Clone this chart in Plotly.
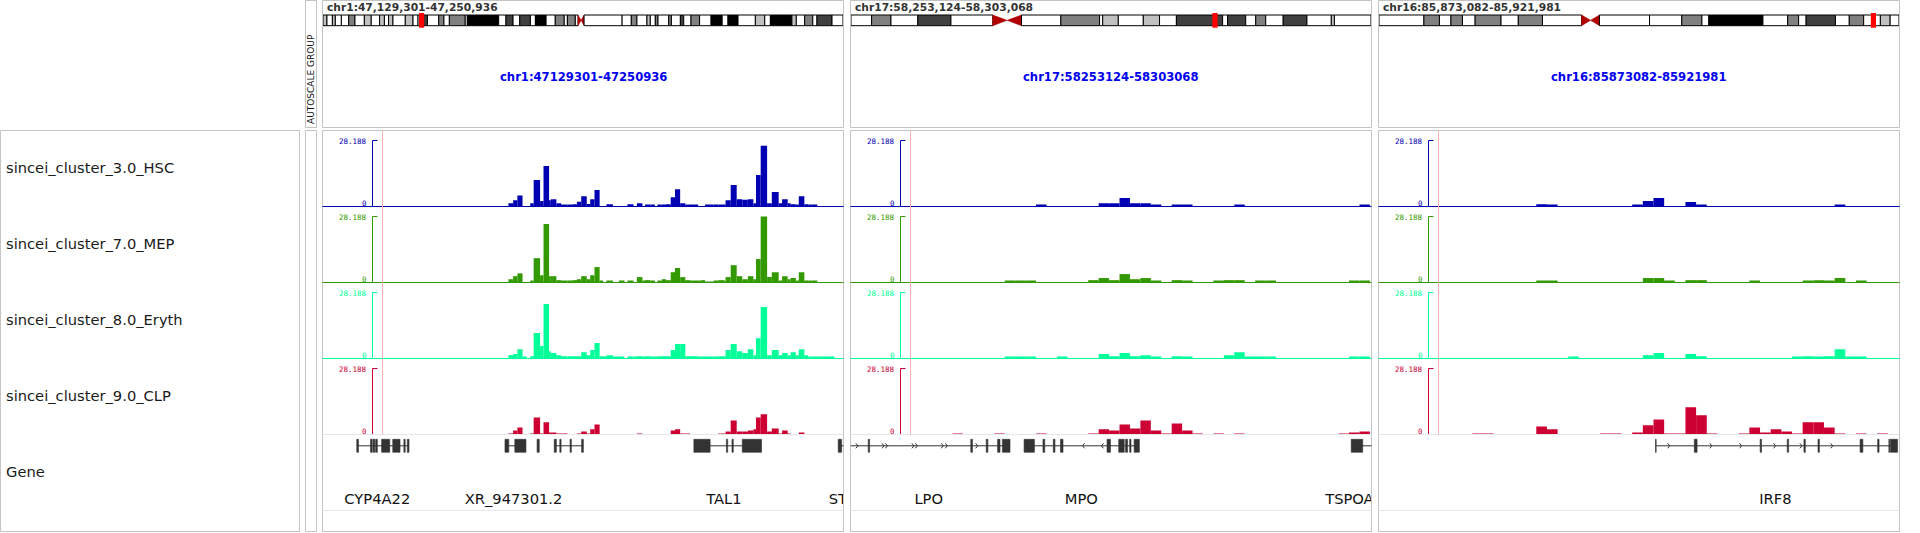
import plotly.graph_objects as go

# ============================ DATA ============================
REGION_CHR = ["chr1", "chr17", "chr16"]
REGION_START = [47129301, 58253124, 85873082]
REGION_END = [47250936, 58303068, 85921981]
CHROM_LEN_MB = [248.956, 83.257, 90.338]

TRACK_NAMES = ["sincei_cluster_3.0_HSC", "sincei_cluster_7.0_MEP",
               "sincei_cluster_8.0_Eryth", "sincei_cluster_9.0_CLP"]
GENE_TRACK_NAME = "Gene"
DATA_MAX = 28.188
SCALE_TOP_LABEL = "28.188"
SCALE_BOTTOM_LABEL = "0"

# ---- panel 1 (chr1) signal: segment edges (kb from region start) ----
P1_EDGES_KB = [43.4, 44.5, 45.5, 46.7, 47.7, 48.5, 49.3, 50.8, 51.6, 52.9, 53.3, 53.8,
               54.6, 55.7, 57.2, 58.3, 59.4, 60.4, 61.7, 62.5, 63.5, 64.7, 65.5, 66.3,
               67.8, 69.2, 70.5, 71.2, 72.6, 73.4, 74.7, 75.3, 76.6, 77.6, 78.2, 79.2,
               80.2, 81.3, 82.3, 83.5, 84.7, 85.8, 87.7, 88.4, 89.3, 91.3, 92.4, 93.7,
               94.1, 95.3, 96.7, 98.0, 99.3, 100.6, 101.2, 102.3, 103.8, 104.9, 106.5,
               107.3, 108.6, 109.3, 110.5, 111.2, 112.5, 113.4, 114.2, 115.5, 119.5]
P1_HSC = [1.4, 2.7, 4.7, 0, 0, 1.4, 11.3, 2.3, 17.3, 2.7,
          3.1, 3.1, 1.4, 0.6, 0.6, 1.0, 2.0, 4.4, 1.1, 3.1,
          7.0, 0, 0, 1.0, 0, 0, 0, 1.0, 0, 1.4,
          0, 0.6, 0.6, 0, 0.6, 0.6, 1.0, 4.0, 7.4, 1.4,
          0.6, 0.6, 0, 0, 0.6, 0.6, 0.6, 0.6, 2.7, 9.2,
          3.1, 2.9, 3.1, 1.4, 13.5, 25.9, 1.4, 6.2, 1.4, 3.1,
          1.4, 1.0, 0.6, 4.4, 1.0, 0.6, 0.6, 0]
P1_MEP = [1.4, 2.7, 3.9, 0, 0, 0.6, 10.4, 3.1, 25.0, 2.7,
          2.7, 2.7, 1.0, 0.8, 0.6, 1.0, 1.4, 2.7, 1.4, 3.1,
          6.6, 0.6, 0, 0.6, 0, 0.6, 0, 0.6, 0, 2.3,
          0.6, 1.0, 0.6, 0, 0.6, 1.4, 1.0, 4.4, 6.2, 2.3,
          1.0, 0.6, 0.6, 1.0, 0.4, 0.6, 1.0, 0.6, 2.3, 7.4,
          2.7, 1.4, 2.7, 1.4, 10.0, 28.188, 2.3, 4.4, 0.6, 2.7,
          1.4, 1.9, 0.6, 4.4, 0.6, 0.6, 0.6, 0]
P1_ERYTH = [1.4, 1.9, 4.0, 0.6, 0, 1.0, 10.9, 5.3, 23.3, 3.1,
            2.3, 2.3, 1.4, 1.0, 1.0, 1.0, 1.0, 2.7, 1.4, 3.6,
            6.6, 1.0, 1.0, 1.4, 0.6, 0.6, 0, 0.6, 0.6, 1.0,
            0.6, 1.0, 0.6, 0.6, 1.0, 1.0, 1.0, 3.6, 6.2, 6.2,
            1.0, 1.0, 0.6, 0.6, 0.6, 0.6, 1.0, 1.0, 3.6, 6.2,
            3.1, 2.3, 4.0, 1.4, 8.7, 22.0, 1.4, 3.6, 1.4, 2.3,
            1.4, 2.7, 1.4, 4.0, 1.4, 0.6, 0.6, 0.6]
P1_CLP = [0.4, 1.7, 3.0, 0, 0, 0.4, 7.3, 0.4, 5.2, 0.9,
          0.9, 0.9, 0.4, 0.4, 0, 0, 0.4, 1.3, 0.4, 2.2,
          4.3, 0, 0, 0, 0, 0, 0, 0, 0, 0.4,
          0, 0, 0, 0, 0, 0, 0, 1.7, 2.2, 0.4,
          0.4, 0, 0, 0, 0, 0, 0.4, 0.4, 1.3, 6.0,
          1.3, 1.3, 1.7, 2.2, 7.3, 8.6, 1.3, 2.6, 0.4, 1.7,
          0.4, 0, 0, 0.9, 0, 0, 0, 0]

# ---- panels 2 & 3: 1 kb bins (bin k starts at origin + k * BIN_BP) ----
BIN_BP = 1000
P2_BIN_ORIGIN = 58252914
P2_BINS = [10, 14, 15, 16, 17, 18, 20, 23, 24, 25, 26, 27, 28, 29, 30, 31, 32, 33,
           35, 36, 37, 38, 39, 40, 47, 48, 49]
P2_HSC = [0, 0, 0, 0, 0, 0.6, 0, 0, 1.4, 1.4, 3.6, 1.4, 1.4, 0.6, 0, 0.6, 0.6, 0,
          0, 0, 0.6, 0, 0, 0, 0, 0, 0.6]
P2_MEP = [0, 0, 0.6, 0.6, 0.6, 0, 0, 1.0, 1.9, 1.0, 3.6, 1.4, 1.9, 0.6, 0, 1.0, 0.6, 0,
          0.6, 1.0, 1.0, 0, 0.6, 0.6, 0, 0.6, 0.6]
P2_ERYTH = [0, 0, 0.6, 0.6, 0.6, 0, 0.6, 0, 1.9, 1.0, 2.3, 1.0, 1.4, 0.6, 0, 1.0, 0.6, 0,
            0, 1.4, 2.7, 0.6, 0.6, 0.6, 0, 0.6, 0.6]
P2_CLP = [0.4, 0.4, 0, 0, 0, 0.4, 0, 0.4, 2.2, 1.7, 4.3, 2.6, 6.0, 1.7, 0.4, 4.7, 1.7, 0.4,
          0.4, 0, 0.4, 0, 0, 0, 0.4, 0.9, 1.3]

P3_BIN_ORIGIN = 85872892
P3_BINS = [9, 10, 15, 16, 18, 21, 22, 24, 25, 26, 27, 28, 29, 30, 31, 34, 35, 36, 37, 38,
           39, 40, 41, 42, 43, 44, 45, 47]
P3_HSC = [0, 0, 1.0, 0.6, 0, 0, 0, 0.6, 2.3, 3.6, 0, 0, 1.9, 0.6, 0, 0, 0, 0, 0, 0,
          0, 0, 0, 0, 0.6, 0, 0, 0]
P3_MEP = [0, 0, 0.6, 0.6, 0, 0, 0, 0, 1.9, 1.9, 0.6, 0, 1.0, 1.0, 0, 0, 0.6, 0, 0, 0,
          0, 0.6, 1.0, 0.6, 1.9, 0, 0.6, 0]
P3_ERYTH = [0, 0, 0, 0, 0.6, 0, 0, 0, 1.4, 2.3, 0, 0, 1.9, 1.0, 0, 0, 0, 0, 0, 0,
            0.6, 1.0, 0.6, 1.0, 4.0, 0.6, 0.6, 0]
P3_CLP = [0.4, 0.4, 3.4, 2.2, 0, 0.4, 0.4, 0.9, 3.9, 6.4, 0.4, 0.4, 11.6, 8.2, 0.4, 0.4,
          3.0, 0.9, 2.2, 1.3, 0.4, 5.2, 5.2, 3.0, 0.4, 0, 0.4, 0.4]

# ---- cytobands (Mb) ; stain: 0 gneg, 25/50/75/100 gpos, -1 centromere ----
CHR1_BAND_EDGES = [0, 1.9, 4.5, 5.9, 8.8, 12.3, 15.3, 19.8, 23.1, 27.1, 29.4, 31.4, 33.5,
                   39.4, 43.1, 45.5, 48.2, 50.0, 55.4, 57.9, 60.5, 68.1, 69.1, 84.1, 87.6,
                   91.0, 94.2, 99.3, 101.7, 106.8, 111.2, 115.5, 117.0, 120.8, 122.1,
                   125.0, 143.2, 147.6, 150.3, 155.1, 156.7, 159.1, 160.4, 165.5, 166.8,
                   171.1, 172.7, 176.2, 180.3, 185.8, 191.1, 193.9, 198.7, 207.0, 211.5,
                   214.2, 224.5, 226.6, 230.6, 234.5, 236.5, 243.7, 248.956]
CHR1_BAND_STAIN = [25, 0, 25, 0, 0, 50, 0, 25, 0, 25, 0, 25, 0, 25, 0, 0, 75, 0, 50, 0, 50,
                   0, 100, 0, 75, 0, 75, 0, 100, 0, 50, 0, 50, 0,
                   -1,
                   0, 0, 50, 0, 25, 0, 50, 0, 50, 0, 75, 0, 50, 0, 100, 0, 100, 0, 25, 0,
                   100, 25, 0, 50, 0, 75, 0]
CHR17_BAND_EDGES = [0, 3.3, 6.4, 10.7, 16.0, 22.7, 27.3, 33.6, 39.8, 40.3, 42.8, 46.8,
                    49.4, 52.1, 59.5, 60.3, 63.2, 64.8, 66.4, 69.2, 73.0, 76.9, 77.4, 83.257]
CHR17_BAND_STAIN = [0, 50, 0, 75, 0, -1, 0, 50, 0, 25, 0, 25, 0, 75, 0, 75, 0, 50, 0, 75,
                    0, 25, 0]
CHR16_BAND_EDGES = [0, 7.8, 10.5, 12.5, 14.5, 16.7, 21.2, 24.2, 28.4, 35.2, 38.3, 47.0,
                    52.6, 56.1, 57.3, 66.7, 71.0, 72.9, 74.2, 79.3, 81.7, 84.2, 87.1, 88.8,
                    90.338]
CHR16_BAND_STAIN = [0, 50, 0, 50, 0, 50, 0, 50, 0, -1, 0, 0, 50, 0, 100, 0, 50, 0, 75, 0,
                    50, 0, 25, 0]

# ---- gene annotations (kb from region start) ----
P1_GENE_SPANS = [[8.0, 20.2], [42.6, 47.5], [50.1, 50.6], [54.1, 60.9], [86.7, 102.5],
                 [120.4, 122.0]]
P1_GENE_EXONS = [
    [[8.0, 8.4], [11.2, 11.6], [11.8, 12.2], [12.4, 12.8], [13.8, 15.7], [16.4, 18.1],
     [19.0, 19.3], [19.8, 20.2]],
    [[42.6, 43.5], [44.9, 47.5]],
    [[50.1, 50.6]],
    [[54.1, 54.6], [55.4, 55.7], [57.8, 58.1], [60.5, 60.9]],
    [[86.7, 90.5], [94.3, 94.6], [95.6, 95.9], [98.0, 102.5]],
    [[120.4, 121.2]],
]
P1_GENE_LABELS = ["CYP4A22", "XR_947301.2", "TAL1", "STIL"]
P1_GENE_LABEL_KB = [12.8, 44.6, 93.7, 121.8]
P1_ARROWS_PLUS = []
P1_ARROWS_MINUS = []

P2_GENE_SPANS = [[0.0, 15.3], [16.64, 27.7], [48.0, 50.5]]
P2_GENE_EXONS = [
    [[1.70, 1.83], [11.53, 11.69], [13.01, 13.17], [14.1, 14.33], [14.56, 15.29]],
    [[16.64, 17.63], [18.45, 18.62], [19.44, 19.6], [20.13, 20.37], [24.59, 24.92],
     [25.71, 26.24], [26.37, 26.56], [26.76, 26.89], [27.19, 27.69]],
    [[48.0, 49.1]],
]
P2_GENE_LABELS = ["LPO", "MPO", "TSPOAP1"]
P2_GENE_LABEL_KB = [7.5, 22.13, 48.7]
P2_ARROWS_PLUS = [0.71, 3.21, 3.54, 6.08, 6.41, 8.89, 9.28, 12.19]
P2_ARROWS_MINUS = [22.24, 24.06]

P3_GENE_SPANS = [[26.02, 48.72]]
P3_GENE_EXONS = [
    [[26.0, 26.06], [29.64, 29.9], [35.82, 35.95], [38.36, 38.49], [39.93, 40.06],
     [41.25, 41.38], [45.2, 45.46], [46.85, 46.98], [47.9, 47.98], [48.05, 48.72]],
]
P3_GENE_LABELS = ["IRF8"]
P3_GENE_LABEL_KB = [37.25]
P3_ARROWS_PLUS = [27.33, 31.28, 34.08, 37.27, 39.74, 42.63]
P3_ARROWS_MINUS = []

# ============================ STYLE / LAYOUT ============================
W, H = 1920, 533
TRACK_COLORS = ["#0000b2", "#339900", "#00ff99", "#cc0033"]
STAIN_COLORS = {0: "#ffffff", 25: "#c0c0c0", 50: "#808080", 75: "#404040", 100: "#000000"}
CEN_COLOR = "#b00000"
BORDER = "#c4c4c4"
SEP = "#e6e6e6"
PINK = "#ffb4b4"
GENE_COLOR = "#333333"
FONT = "DejaVu Sans"

PANEL_LEFT = [322.5, 850.5, 1378.5]
PANEL_W = 521.0
HEADER_TOP, HEADER_BOT = 0.5, 127.5
DATA_TOP, DATA_BOT = 130.5, 531.5
FIRST_BASE = 206.5
ROW_H = 76.0
SCALE_SPAN = 66.0
GENE_TOP, GENE_BOT = 434.5, 510.5
IDEO_TOP, IDEO_BOT = 12.0, 29.0


def X(p):
    return p / W


def Y(p):
    return 1 - p / H


fig = go.Figure()
axes = {}
shapes = []
annos = []


def axis_pair(n, xdom, ydom, xrng, yrng):
    s = "" if n == 1 else str(n)
    common = dict(visible=False, fixedrange=True, showgrid=False, zeroline=False)
    axes["xaxis" + s] = dict(domain=xdom, range=xrng, anchor="y" + s, **common)
    axes["yaxis" + s] = dict(domain=ydom, range=yrng, anchor="x" + s, **common)
    return "x" + s, "y" + s


def pline(x0, y0, x1, y1, color, w=1.0):
    shapes.append(dict(type="line", xref="paper", yref="paper", x0=X(x0), y0=Y(y0),
                       x1=X(x1), y1=Y(y1), line=dict(color=color, width=w)))


def prect(x0, y0, x1, y1, color, w=1.0):
    shapes.append(dict(type="rect", xref="paper", yref="paper", x0=X(x0), y0=Y(y1),
                       x1=X(x1), y1=Y(y0), line=dict(color=color, width=w),
                       fillcolor="rgba(0,0,0,0)"))


def text(x, y, s, size, color, xanchor="left", weight="normal", family=FONT, angle=0):
    annos.append(dict(x=X(x), y=Y(y), xref="paper", yref="paper", text=s, showarrow=False,
                      xanchor=xanchor, yanchor="middle", borderpad=0, textangle=angle,
                      font=dict(family=family, size=size, color=color, weight=weight)))


BANDS = [(CHR1_BAND_EDGES, CHR1_BAND_STAIN), (CHR17_BAND_EDGES, CHR17_BAND_STAIN),
         (CHR16_BAND_EDGES, CHR16_BAND_STAIN)]


def panel_tracks(i):
    s = REGION_START[i]
    if i == 0:
        x0 = [s + e * 1000 for e in P1_EDGES_KB[:-1]]
        x1 = [s + e * 1000 for e in P1_EDGES_KB[1:]]
        vals = [P1_HSC, P1_MEP, P1_ERYTH, P1_CLP]
    elif i == 1:
        x0 = [P2_BIN_ORIGIN + k * BIN_BP for k in P2_BINS]
        x1 = [a + BIN_BP for a in x0]
        vals = [P2_HSC, P2_MEP, P2_ERYTH, P2_CLP]
    else:
        x0 = [P3_BIN_ORIGIN + k * BIN_BP for k in P3_BINS]
        x1 = [a + BIN_BP for a in x0]
        vals = [P3_HSC, P3_MEP, P3_ERYTH, P3_CLP]
    return x0, x1, vals


GENES = [
    (P1_GENE_SPANS, P1_GENE_EXONS, P1_GENE_LABELS, P1_GENE_LABEL_KB, P1_ARROWS_PLUS, P1_ARROWS_MINUS),
    (P2_GENE_SPANS, P2_GENE_EXONS, P2_GENE_LABELS, P2_GENE_LABEL_KB, P2_ARROWS_PLUS, P2_ARROWS_MINUS),
    (P3_GENE_SPANS, P3_GENE_EXONS, P3_GENE_LABELS, P3_GENE_LABEL_KB, P3_ARROWS_PLUS, P3_ARROWS_MINUS),
]

px_per_unit = SCALE_SPAN / DATA_MAX

for i in range(3):
    left = PANEL_LEFT[i]
    right = left + PANEL_W
    start, end = REGION_START[i], REGION_END[i]
    bp_px = (end - start) / PANEL_W
    n0 = 1 + i * 6

    # ---------- header ----------
    prect(left, HEADER_TOP, right, HEADER_BOT, BORDER)
    text(left + 3, 7.0, f"{REGION_CHR[i]}:{start:,}-{end:,}", 10.7, "#333333", weight="bold")
    text((left + right) / 2, 76.7, f"{REGION_CHR[i]}:{start}-{end}", 11.6, "#0000ee",
         xanchor="center", weight="bold")

    # ideogram
    xr, yr = axis_pair(n0, [X(left + 0.5), X(right - 0.5)], [Y(IDEO_BOT), Y(IDEO_TOP)],
                       [0, CHROM_LEN_MB[i]], [IDEO_BOT - IDEO_TOP, 0])
    y_t, y_b = 15.0 - IDEO_TOP, 25.7 - IDEO_TOP
    y_m = (y_t + y_b) / 2
    edges, stains = BANDS[i]
    for a, b, st in zip(edges[:-1], edges[1:], stains):
        if st < 0:
            mid = (a + b) / 2
            for base in (a, b):
                shapes.append(dict(type="path", xref=xr, yref=yr,
                                   path=f"M {base},{y_t} L {base},{y_b} L {mid},{y_m} Z",
                                   fillcolor=CEN_COLOR, line=dict(color=CEN_COLOR, width=0.5)))
        else:
            shapes.append(dict(type="rect", xref=xr, yref=yr, x0=a, x1=b, y0=y_t, y1=y_b,
                               fillcolor=STAIN_COLORS[st], line=dict(color="black", width=1)))
    mid_mb = (start + end) / 2 / 1e6
    half = 2.6 * CHROM_LEN_MB[i] / PANEL_W
    shapes.append(dict(type="rect", xref=xr, yref=yr, x0=mid_mb - half, x1=mid_mb + half,
                       y0=13.0 - IDEO_TOP, y1=27.7 - IDEO_TOP, fillcolor="#ff0000",
                       line=dict(width=0)))

    # ---------- data panel ----------
    prect(left, DATA_TOP, right, DATA_BOT, BORDER)
    x0s, x1s, vals = panel_tracks(i)
    for k in range(4):
        base = FIRST_BASE + k * ROW_H
        xr, yr = axis_pair(n0 + 1 + k, [X(left), X(right)], [Y(base + 1.5), Y(base - 75)],
                           [start, end], [-1.5 / px_per_unit, 75 / px_per_unit])
        cx, wd, yv = [], [], []
        for a, b, v in zip(x0s, x1s, vals[k]):
            if v > 0:
                cx.append((a + b) / 2)
                wd.append(b - a)
                yv.append(v)
        fig.add_trace(go.Bar(x=cx, y=yv, width=wd, xaxis=xr, yaxis=yr,
                             marker=dict(color=TRACK_COLORS[k], line=dict(width=0)),
                             hoverinfo="skip", showlegend=False))
        col = TRACK_COLORS[k]
        if k < 3:
            shapes.append(dict(type="line", xref="paper", yref=yr, x0=X(left), x1=X(right),
                               y0=0, y1=0, line=dict(color=col, width=1)))
        # data-range axis
        ax = left + 50
        shapes.append(dict(type="line", xref="paper", yref=yr, x0=X(ax), x1=X(ax),
                           y0=0, y1=DATA_MAX, line=dict(color=col, width=1)))
        shapes.append(dict(type="line", xref="paper", yref=yr, x0=X(ax), x1=X(ax + 5),
                           y0=DATA_MAX, y1=DATA_MAX, line=dict(color=col, width=1)))
        text(left + 45, base - SCALE_SPAN + 0.6, SCALE_TOP_LABEL, 7.5, col, xanchor="right",
             family="DejaVu Sans Mono")
        text(left + 45, base - 3.3, SCALE_BOTTOM_LABEL, 7.5, col, xanchor="right",
             family="DejaVu Sans Mono")

    # separators and pink line
    pline(left, GENE_TOP, right, GENE_TOP, SEP)
    pline(left, GENE_BOT, right, GENE_BOT, SEP)
    pline(left + 60, DATA_TOP, left + 60, GENE_TOP, PINK)

    # ---------- gene track ----------
    xr, yr = axis_pair(n0 + 5, [X(left), X(right)], [Y(GENE_BOT), Y(GENE_TOP)],
                       [start, end], [GENE_BOT - GENE_TOP, 0])
    ex_t, ex_b = 439.3 - GENE_TOP, 452.3 - GENE_TOP
    line_y = 445.8 - GENE_TOP
    spans, exons, labels, label_kb, ar_p, ar_m = GENES[i]
    for (a, b), exl in zip(spans, exons):
        shapes.append(dict(type="line", xref=xr, yref=yr, x0=start + a * 1000,
                           x1=start + b * 1000, y0=line_y, y1=line_y,
                           line=dict(color=GENE_COLOR, width=1)))
        for ea, eb in exl:
            shapes.append(dict(type="rect", xref=xr, yref=yr, x0=start + ea * 1000,
                               x1=start + eb * 1000, y0=ex_t, y1=ex_b,
                               fillcolor=GENE_COLOR, line=dict(color=GENE_COLOR, width=0.6)))
    cxs, cys = [], []
    for kbs, d in ((ar_p, 1), (ar_m, -1)):
        for kb in kbs:
            x = start + kb * 1000
            dx = d * 2.0 * bp_px
            cxs += [x - dx, x, x - dx, None]
            cys += [line_y - 2.5, line_y, line_y + 2.5, None]
    if cxs:
        fig.add_trace(go.Scatter(x=cxs, y=cys, mode="lines", xaxis=xr, yaxis=yr,
                                 line=dict(color=GENE_COLOR, width=1), hoverinfo="skip",
                                 showlegend=False))
    fig.add_trace(go.Scatter(x=[start + kb * 1000 for kb in label_kb],
                             y=[500.5 - GENE_TOP] * len(labels), mode="text", text=labels,
                             textposition="middle center", cliponaxis=True,
                             textfont=dict(family=FONT, size=14.7, color="#111111"),
                             xaxis=xr, yaxis=yr, hoverinfo="skip", showlegend=False))

# ---------- left name panel & attribute column ----------
prect(0.5, DATA_TOP, 299.5, DATA_BOT, BORDER)
prect(305.5, DATA_TOP, 316.5, DATA_BOT, BORDER)
prect(305.5, HEADER_TOP, 316.5, HEADER_BOT, BORDER)
text(311.0, 79.0, "AUTOSCALE GROUP", 9, "#111111", xanchor="center", angle=-90)

for k, name in enumerate(TRACK_NAMES + [GENE_TRACK_NAME]):
    yc = FIRST_BASE - ROW_H / 2 + k * ROW_H - 1.3
    text(5.0, yc, name, 14.7, "#1a1a1a")

fig.update_layout(width=W, height=H, margin=dict(l=0, r=0, t=0, b=0),
                  paper_bgcolor="white", plot_bgcolor="white", showlegend=False,
                  barmode="overlay", shapes=shapes, annotations=annos, **axes)

fig.write_html("out.html", config={"displayModeBar": False},
               post_script="document.body.style.margin='0';document.body.style.overflow='hidden';")
